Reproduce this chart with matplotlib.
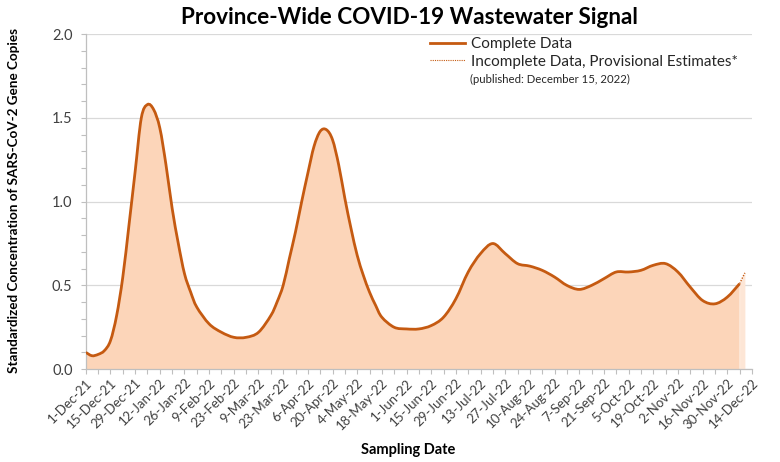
import matplotlib
matplotlib.use("Agg")
import matplotlib.pyplot as plt
import matplotlib.dates as mdates
from matplotlib.path import Path
from matplotlib.patches import PathPatch
from matplotlib.lines import Line2D
import numpy as np
import datetime as dt

plt.rcParams['font.family'] = ['Lato', 'DejaVu Sans']

# ---- data ----
start_date = "2021-12-01"
# sampling position in weeks after start_date
sample_weeks = [0, 0.5, 1, 1.5, 2, 2.5, 3, 3.5, 4, 4.5, 5, 5.5, 6, 6.5, 7, 7.5,
                8, 8.5, 9, 10, 11, 12, 13, 14, 15, 15.5, 16, 16.5, 17, 17.5,
                18, 18.5, 19, 19.5, 20, 20.5, 21, 21.5, 22, 22.5, 23, 23.5,
                24, 25, 26, 27, 28, 29, 30, 31, 32, 33, 34, 35, 36, 37, 38,
                39, 40, 41, 42, 43, 44, 45, 46, 47, 48, 49, 50, 51, 52, 53]
sample_values = [0.10, 0.08, 0.088, 0.11, 0.17, 0.32, 0.55, 0.86, 1.18, 1.50,
                 1.58, 1.55, 1.44, 1.22, 0.96, 0.75, 0.57, 0.46, 0.37, 0.27,
                 0.22, 0.19, 0.19, 0.22, 0.32, 0.40, 0.50, 0.66, 0.82, 1.00,
                 1.17, 1.33, 1.42, 1.43, 1.37, 1.22, 1.02, 0.84, 0.68, 0.56,
                 0.46, 0.38, 0.31, 0.25, 0.24, 0.24, 0.26, 0.31, 0.42, 0.58,
                 0.69, 0.75, 0.69, 0.63, 0.615, 0.59, 0.55, 0.50, 0.476, 0.50,
                 0.54, 0.58, 0.58, 0.59, 0.62, 0.63, 0.58, 0.49, 0.41, 0.39,
                 0.43, 0.51]
provisional_date = "2022-12-10"
provisional_value = 0.575
x_start = "2021-12-01"
x_end = "2022-12-14"
title = "Province-Wide COVID-19 Wastewater Signal"
ylabel = "Standardized Concentration of SARS-CoV-2 Gene Copies"
xlabel = "Sampling Date"
legend_labels = ["Complete Data", "Incomplete Data, Provisional Estimates*"]
note = "(published: December 15, 2022)"

line_color = "#C55A11"
fill_color = "#FCD5B9"
fill_light = "#FDE6D6"

d0 = dt.date.fromisoformat(start_date)
xs = mdates.date2num(d0) + 7.0 * np.array(sample_weeks)
ys = np.array(sample_values)
px = mdates.date2num(dt.date.fromisoformat(provisional_date))


def bezier_path(x, y):
    """Excel-style smoothed line as cubic Bezier segments."""
    pts = np.column_stack([x, y])
    n = len(pts)
    verts = [pts[0]]
    codes = [Path.MOVETO]
    for i in range(n - 1):
        p0 = pts[i - 1] if i > 0 else pts[i]
        p1 = pts[i]
        p2 = pts[i + 1]
        p3 = pts[i + 2] if i + 2 < n else pts[i + 1]
        c1 = p1 + (p2 - p0) / 6.0
        c2 = p2 - (p3 - p1) / 6.0
        verts += [c1, c2, p2]
        codes += [Path.CURVE4] * 3
    return verts, codes


fig = plt.figure(figsize=(7.8, 4.62), dpi=100)
ax = fig.add_axes([0.110, 0.201, 0.854, 0.725])

# complete data fill + line
verts, codes = bezier_path(xs, ys)
fill_verts = verts + [(xs[-1], 0), (xs[0], 0), verts[0]]
fill_codes = codes + [Path.LINETO, Path.LINETO, Path.CLOSEPOLY]
ax.add_patch(PathPatch(Path(fill_verts, fill_codes), facecolor=fill_color,
                       edgecolor='none', zorder=2))
ax.add_patch(PathPatch(Path(verts, codes), facecolor='none',
                       edgecolor=line_color, lw=2.0, zorder=4))

# provisional segment
ax.fill_between([xs[-1], px], [ys[-1], provisional_value], 0,
                color=fill_light, lw=0, zorder=2)
ax.plot([xs[-1], px], [ys[-1], provisional_value], color=line_color,
        lw=1.0, ls=(0, (1, 1)), zorder=4)

# axes
ax.set_xlim(mdates.date2num(dt.date.fromisoformat(x_start)),
            mdates.date2num(dt.date.fromisoformat(x_end)))
ax.set_ylim(0, 2.0)
ax.set_yticks(np.arange(0, 2.01, 0.5))
ax.set_yticks(np.arange(0, 2.01, 0.1), minor=True)
ax.yaxis.set_major_formatter(matplotlib.ticker.FormatStrFormatter('%.1f'))

major_ticks = [d0 + dt.timedelta(days=14 * i) for i in range(28)]
minor_ticks = [d0 + dt.timedelta(days=7 * i) for i in range(55)]
ax.set_xticks(mdates.date2num(major_ticks))
ax.set_xticks(mdates.date2num(minor_ticks), minor=True)
ax.set_xticklabels([f"{d.day}-{d.strftime('%b-%y')}" for d in major_ticks],
                   rotation=45, ha='right', rotation_mode='anchor',
                   fontsize=9.5, color='#404040')
for lab in ax.get_yticklabels():
    lab.set_fontsize(10.5)
    lab.set_color('#404040')

ax.grid(axis='y', color='#D9D9D9', lw=0.9, zorder=0)
ax.set_axisbelow(True)
for s in ['top', 'right']:
    ax.spines[s].set_visible(False)
for s in ['left', 'bottom']:
    ax.spines[s].set_color('#BFBFBF')
    ax.spines[s].set_linewidth(0.9)
ax.tick_params(axis='both', which='both', color='#BFBFBF', length=3.5,
               width=0.8, direction='out')
ax.tick_params(axis='x', pad=2)
ax.tick_params(axis='y', pad=6)

fig.text(0.525, 0.962, title, ha='center', va='center', fontsize=16.2,
         fontweight='bold', color='black')
fig.text(0.018, 0.567, ylabel, rotation=90, ha='center', va='center',
         fontsize=9.7, fontweight='bold')
fig.text(0.523, 0.026, xlabel, ha='center', va='center', fontsize=10.5,
         fontweight='bold')

handles = [Line2D([], [], color=line_color, lw=2.0),
           Line2D([], [], color=line_color, lw=0.8, ls=(0, (1, 1)))]
leg = ax.legend(handles, legend_labels, loc='upper left',
                bbox_to_anchor=(0.507, 1.01), frameon=False, fontsize=11,
                handlelength=2.3, handletextpad=0.4, labelspacing=0.25,
                borderaxespad=0)
for t in leg.get_texts():
    t.set_color('#262626')
fig.text(0.603, 0.829, note, fontsize=8.2, color='#262626', va='center')

fig.savefig("out.png", dpi=100)
